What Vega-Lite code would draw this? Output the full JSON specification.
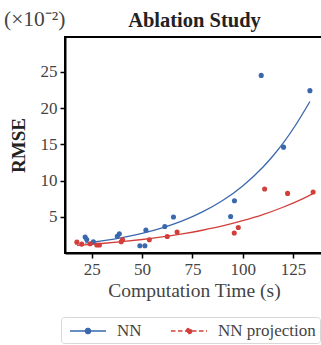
{
  "$schema": "https://vega.github.io/schema/vega-lite/v6.json",
  "width": 258,
  "height": 216,
  "autosize": {"type": "none"},
  "padding": {"left": 65, "top": 37, "right": 0, "bottom": 92},
  "title": {"text": "(×10⁻²)", "anchor": "start", "frame": "group", "dx": -61, "dy": 24, "font": "Liberation Serif", "fontSize": 21.5, "fontWeight": "normal", "color": "#444"},
  "datasets": {
    "fits": [
      {"t": 21.7, "rmse": 1.36, "series": "NN"},
      {"t": 25, "rmse": 1.47, "series": "NN"},
      {"t": 30, "rmse": 1.66, "series": "NN"},
      {"t": 40, "rmse": 2.12, "series": "NN"},
      {"t": 50, "rmse": 2.71, "series": "NN"},
      {"t": 60, "rmse": 3.47, "series": "NN"},
      {"t": 70, "rmse": 4.43, "series": "NN"},
      {"t": 80, "rmse": 5.67, "series": "NN"},
      {"t": 90, "rmse": 7.24, "series": "NN"},
      {"t": 100, "rmse": 9.26, "series": "NN"},
      {"t": 110, "rmse": 11.83, "series": "NN"},
      {"t": 115, "rmse": 13.38, "series": "NN"},
      {"t": 120, "rmse": 15.12, "series": "NN"},
      {"t": 126, "rmse": 17.52, "series": "NN"},
      {"t": 133.4, "rmse": 20.9, "series": "NN"},
      {"t": 17.6, "rmse": 1.05, "series": "NN projection"},
      {"t": 25, "rmse": 1.2, "series": "NN projection"},
      {"t": 30, "rmse": 1.31, "series": "NN projection"},
      {"t": 40, "rmse": 1.56, "series": "NN projection"},
      {"t": 50, "rmse": 1.86, "series": "NN projection"},
      {"t": 60, "rmse": 2.21, "series": "NN projection"},
      {"t": 70, "rmse": 2.63, "series": "NN projection"},
      {"t": 80, "rmse": 3.14, "series": "NN projection"},
      {"t": 90, "rmse": 3.73, "series": "NN projection"},
      {"t": 100, "rmse": 4.45, "series": "NN projection"},
      {"t": 110, "rmse": 5.29, "series": "NN projection"},
      {"t": 120, "rmse": 6.31, "series": "NN projection"},
      {"t": 130, "rmse": 7.51, "series": "NN projection"},
      {"t": 135, "rmse": 8.19, "series": "NN projection"}
    ],
    "points": [
      {"t": 21.7, "rmse": 2.2, "series": "NN"},
      {"t": 22.5, "rmse": 1.85, "series": "NN"},
      {"t": 25.8, "rmse": 1.55, "series": "NN"},
      {"t": 37.7, "rmse": 2.3, "series": "NN"},
      {"t": 38.7, "rmse": 2.65, "series": "NN"},
      {"t": 48.9, "rmse": 1.0, "series": "NN"},
      {"t": 51.4, "rmse": 1.0, "series": "NN"},
      {"t": 51.9, "rmse": 3.15, "series": "NN"},
      {"t": 61.3, "rmse": 3.66, "series": "NN"},
      {"t": 65.6, "rmse": 4.96, "series": "NN"},
      {"t": 94.0, "rmse": 5.04, "series": "NN"},
      {"t": 95.9, "rmse": 7.2, "series": "NN"},
      {"t": 109.2, "rmse": 24.5, "series": "NN"},
      {"t": 120.3, "rmse": 14.6, "series": "NN"},
      {"t": 133.4, "rmse": 22.4, "series": "NN"},
      {"t": 17.6, "rmse": 1.5, "series": "NN projection"},
      {"t": 20.0, "rmse": 1.23, "series": "NN projection"},
      {"t": 24.2, "rmse": 1.27, "series": "NN projection"},
      {"t": 27.5, "rmse": 1.1, "series": "NN projection"},
      {"t": 28.8, "rmse": 1.1, "series": "NN projection"},
      {"t": 39.6, "rmse": 1.55, "series": "NN projection"},
      {"t": 40.3, "rmse": 1.82, "series": "NN projection"},
      {"t": 53.6, "rmse": 1.82, "series": "NN projection"},
      {"t": 62.5, "rmse": 2.28, "series": "NN projection"},
      {"t": 67.4, "rmse": 2.88, "series": "NN projection"},
      {"t": 95.8, "rmse": 2.75, "series": "NN projection"},
      {"t": 97.8, "rmse": 3.52, "series": "NN projection"},
      {"t": 110.9, "rmse": 8.83, "series": "NN projection"},
      {"t": 122.3, "rmse": 8.22, "series": "NN projection"},
      {"t": 135.0, "rmse": 8.41, "series": "NN projection"}
    ]
  },
  "layer": [
    {
      "data": {"name": "fits"},
      "mark": {"type": "line", "strokeWidth": 1.3, "interpolate": "monotone", "clip": true},
      "encoding": {
        "x": {"field": "t", "type": "quantitative",
          "scale": {"domain": [11.7, 139.9], "nice": false, "zero": false},
          "axis": {"orient": "top", "title": "Ablation Study", "labels": false, "ticks": false, "domain": false,
            "titleFont": "Liberation Serif", "titleFontSize": 20.5, "titleFontWeight": "bold", "titleColor": "#222",
            "titleY": -11, "titleBaseline": "alphabetic"}},
        "y": {"field": "rmse", "type": "quantitative"},
        "color": {"field": "series", "type": "nominal"}
      }
    },
    {
      "data": {"name": "points"},
      "mark": {"type": "point", "filled": true, "size": 26, "opacity": 1, "strokeWidth": 0, "clip": true},
      "encoding": {
        "x": {"field": "t", "type": "quantitative",
          "scale": {"domain": [11.7, 139.9], "nice": false, "zero": false},
          "axis": {"orient": "bottom", "title": "Computation Time (s)", "values": [25, 50, 75, 100, 125],
            "titleFontSize": 19.5, "titleFontWeight": "normal", "titleColor": "#444", "titlePadding": 4}},
        "y": {"field": "rmse", "type": "quantitative",
          "scale": {"domain": [0, 29.8], "nice": false},
          "axis": {"title": "RMSE", "values": [5, 10, 15, 20, 25], "titleFontSize": 19, "titleFontWeight": "bold", "titleColor": "#222", "titlePadding": 12}},
        "strokeDash": {"field": "series", "type": "nominal",
          "scale": {"domain": ["NN", "NN projection"], "range": [[1, 0], [4.5, 2.5]]},
          "legend": {"title": null}},
        "color": {"field": "series", "type": "nominal",
          "scale": {"domain": ["NN", "NN projection"], "range": ["#3a68ad", "#d23f3a"]},
          "legend": {
            "orient": "none", "legendX": -4, "legendY": 280, "direction": "horizontal", "title": null,
            "padding": 4, "strokeColor": "#d8d8d8", "fillColor": "#ffffff", "cornerRadius": 3,
            "symbolType": "M-2,0H2M0.28,0A0.28,0.28,0,1,1,-0.28,0A0.28,0.28,0,1,1,0.28,0",
            "symbolSize": 324, "symbolStrokeWidth": 1.6, "symbolOffset": 13,
            "labelFont": "Liberation Serif", "labelFontSize": 17, "labelColor": "#444", "labelOffset": 19,
            "columnPadding": 24,
            "encode": {"symbols": {"update": {
              "fill": {"scale": "color", "field": "value"},
              "stroke": {"scale": "color", "field": "value"},
              "strokeWidth": {"value": 1.6},
              "opacity": {"value": 1}
            }}}
          }}
      }
    }
  ],
  "resolve": {"scale": {"x": "independent"}, "axis": {"x": "independent"}},
  "config": {
    "view": {"stroke": "#000", "strokeWidth": 2},
    "axis": {"grid": false, "domainColor": "#000", "domainWidth": 2, "tickColor": "#000", "tickWidth": 1.5, "tickSize": 5,
      "labelFont": "Liberation Serif", "labelFontSize": 17, "labelColor": "#444", "labelPadding": 3,
      "titleFont": "Liberation Serif"}
  }
}
